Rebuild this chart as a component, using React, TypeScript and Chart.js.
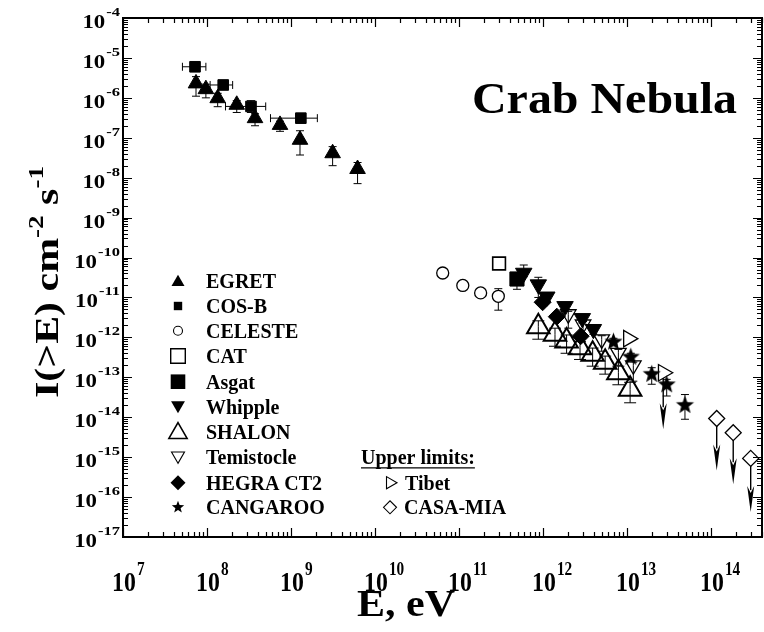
import React, { useEffect, useRef } from "react";
import { Chart, registerables } from "chart.js";
Chart.register(...registerables);

// ---------- axes ----------
const X_MIN = 1e7;
const X_MAX = 4.05e14;
const Y_MIN = 1e-17;
const Y_MAX = 1e-4;
const xTickExps = [7, 8, 9, 10, 11, 12, 13, 14];
const yTickExps = [-4, -5, -6, -7, -8, -9, -10, -11, -12, -13, -14, -15, -16, -17];

const TITLE = "Crab Nebula";
const X_TITLE = "E, eV";

// ---------- data ----------
const egretE = [7.4e7, 9.7e7, 1.34e8, 2.26e8, 3.73e8, 7.4e8, 1.28e9, 3.13e9, 6.2e9];
const egretI = [2.3e-6, 1.65e-6, 9.8e-7, 6.7e-7, 3.1e-7, 2.1e-7, 8.9e-8, 4.1e-8, 1.65e-8];
const egretLo = [1.1e-6, 1.0e-6, 6.0e-7, 4.3e-7, 2.0e-7, 1.45e-7, 3.7e-8, 2.0e-8, 7.1e-9];
const egretHi = [3.4e-6, 2.2e-6, 1.3e-6, 8.5e-7, 4.0e-7, 2.6e-7, 1.5e-7, 6.0e-8, 2.4e-8];

const cosbE = [7.2e7, 1.56e8, 3.34e8, 1.31e9];
const cosbI = [6.0e-6, 2.1e-6, 6.1e-7, 3.1e-7];
const cosbLo = [5.1e-6, 1.75e-6, 4.3e-7, 2.6e-7];
const cosbHi = [7.0e-6, 2.5e-6, 8.5e-7, 3.7e-7];
const cosbELo = [5.1e7, 1.09e8, 1.66e8, 5.7e8];
const cosbEHi = [9.7e7, 2.02e8, 5.0e8, 2.06e9];

const celesteE = [6.4e10, 1.11e11, 1.81e11, 2.94e11];
const celesteI = [4.1e-11, 2.0e-11, 1.3e-11, 1.07e-11];
const celesteLo = [3.6e-11, 1.6e-11, 1.05e-11, 4.8e-12];
const celesteHi = [4.6e-11, 2.4e-11, 1.5e-11, 1.66e-11];

const catE = [3.0e11];
const catI = [7.1e-11];
const catLo = [6.0e-11];
const catHi = [8.2e-11];

const asgatE = [4.9e11];
const asgatI = [2.9e-11];
const asgatLo = [1.6e-11];
const asgatHi = [3.6e-11];

const whippleE = [5.9e11, 8.8e11, 1.11e12, 1.83e12, 2.94e12, 3.98e12];
const whippleI = [4.1e-11, 2.1e-11, 1.04e-11, 6.0e-12, 3.0e-12, 1.6e-12];
const whippleLo = [3.3e-11, 1.0e-11, 8.0e-12, 4.6e-12, 2.3e-12, 1.2e-12];
const whippleHi = [6.5e-11, 3.2e-11, 1.3e-11, 7.5e-12, 3.8e-12, 2.1e-12];

const shalonE = [8.8e11, 1.39e12, 1.91e12, 2.76e12, 3.9e12, 5.5e12, 7.9e12, 1.09e13];
const shalonI = [1.85e-12, 1.19e-12, 8.1e-13, 5.5e-13, 3.8e-13, 2.4e-13, 1.3e-13, 5.0e-14];
const shalonLo = [9.0e-13, 6.0e-13, 4.0e-13, 2.8e-13, 1.9e-13, 1.2e-13, 6.5e-14, 2.3e-14];
const shalonHi = [2.6e-12, 1.7e-12, 1.15e-12, 7.8e-13, 5.4e-13, 3.4e-13, 1.9e-13, 7.5e-14];

const temE = [2.0e12, 3.0e12, 5.0e12, 7.9e12, 1.19e13];
const temI = [3.8e-12, 2.1e-12, 8.9e-13, 4.1e-13, 2.0e-13];
const temLo = [1.7e-12, 1.0e-12, 4.5e-13, 2.0e-13, 8.0e-14];
const temHi = [4.5e-12, 2.5e-12, 1.1e-12, 5.0e-13, 2.4e-13];

const hegraE = [9.9e11, 1.46e12, 2.81e12];
const hegraI = [7.6e-12, 3.3e-12, 1.07e-12];
const hegraLo = [6.4e-12, 2.8e-12, 9.0e-13];
const hegraHi = [9.0e-12, 3.9e-12, 1.27e-12];

const cangE = [6.9e12, 1.11e13, 1.97e13, 2.97e13, 4.9e13];
const cangI = [8.1e-13, 3.4e-13, 1.26e-13, 6.9e-14, 2.1e-14];
const cangLo = [6.5e-13, 2.6e-13, 6.7e-14, 3.4e-14, 8.9e-15];
const cangHi = [9.5e-13, 4.0e-13, 1.74e-13, 8.9e-14, 3.7e-14];

const tibetE = [1.04e13, 2.7e13];
const tibetI = [9.3e-13, 1.3e-13];
const tibetLimitTo = [null, 5.0e-15];

const casaE = [1.17e14, 1.84e14, 2.97e14];
const casaI = [9.3e-15, 4.1e-15, 9.3e-16];
const casaLimitTo = [4.6e-16, 2.1e-16, 4.2e-17];

const legendLeft = ["EGRET", "COS-B", "CELESTE", "CAT", "Asgat", "Whipple", "SHALON", "Temistocle", "HEGRA CT2", "CANGAROO"];
const legendRightTitle = "Upper limits:";
const legendRight = ["Tibet", "CASA-MIA"];

// ---------- helpers ----------
const FONT = "'Liberation Serif', 'Times New Roman', serif";

function pts(xs: number[], ys: number[]) {
  return xs.map((x, i) => ({ x, y: ys[i] }));
}

function starPath(g: CanvasRenderingContext2D, cx: number, cy: number, R: number, r: number) {
  g.beginPath();
  for (let k = 0; k < 10; k++) {
    const a = -Math.PI / 2 + (k * Math.PI) / 5;
    const rr = k % 2 === 0 ? R : r;
    const px = cx + rr * Math.cos(a);
    const py = cy + rr * Math.sin(a);
    if (k === 0) g.moveTo(px, py);
    else g.lineTo(px, py);
  }
  g.closePath();
}

function makeStar(R: number) {
  const c = document.createElement("canvas");
  const s = Math.ceil(2 * R + 2);
  c.width = s;
  c.height = s;
  const g = c.getContext("2d")!;
  g.fillStyle = "#000";
  starPath(g, s / 2, s / 2 + 1, R, R * 0.42);
  g.fill();
  return c;
}

function marker(ctx: CanvasRenderingContext2D, kind: string, x: number, y: number, r: number, filled: boolean, lw = 1.3) {
  ctx.save();
  ctx.fillStyle = "#000";
  ctx.strokeStyle = "#000";
  ctx.lineWidth = lw;
  ctx.beginPath();
  const tri = (rot: number) => {
    let a = (rot * Math.PI) / 180;
    for (let k = 0; k < 3; k++) {
      const px = x + Math.sin(a) * r;
      const py = y - Math.cos(a) * r;
      if (k === 0) ctx.moveTo(px, py);
      else ctx.lineTo(px, py);
      a += (2 * Math.PI) / 3;
    }
    ctx.closePath();
  };
  if (kind === "triUp") tri(0);
  else if (kind === "triDown") tri(180);
  else if (kind === "triRight") tri(90);
  else if (kind === "square") ctx.rect(x - r, y - r, 2 * r, 2 * r);
  else if (kind === "circle") ctx.arc(x, y, r, 0, Math.PI * 2);
  else if (kind === "diamond") {
    ctx.moveTo(x - r, y);
    ctx.lineTo(x, y - r);
    ctx.lineTo(x + r, y);
    ctx.lineTo(x, y + r);
    ctx.closePath();
  } else if (kind === "star") starPath(ctx, x, y, r, r * 0.42);
  if (filled) ctx.fill();
  else {
    ctx.fillStyle = "#fff";
    ctx.fill();
    ctx.stroke();
  }
  ctx.restore();
}

function text(ctx: CanvasRenderingContext2D, s: string, x: number, y: number, font: string, align: CanvasTextAlign = "left", baseline: CanvasTextBaseline = "alphabetic", sx = 1) {
  ctx.save();
  ctx.font = font;
  ctx.textAlign = align;
  ctx.textBaseline = baseline;
  ctx.fillStyle = "#000";
  ctx.translate(x, y);
  ctx.scale(sx, 1);
  ctx.fillText(s, 0, 0);
  ctx.restore();
}

function fitText(ctx: CanvasRenderingContext2D, s: string, x: number, y: number, font: string, width: number, align: CanvasTextAlign = "left") {
  ctx.save();
  ctx.font = font;
  const w = ctx.measureText(s).width;
  ctx.restore();
  text(ctx, s, x, y, font, align, "alphabetic", width / w);
}

function measure(ctx: CanvasRenderingContext2D, s: string, font: string) {
  ctx.save();
  ctx.font = font;
  const w = ctx.measureText(s).width;
  ctx.restore();
  return w;
}

const decorPlugin = {
  id: "decor",
  beforeDatasetsDraw(chart: any) {
    const ctx: CanvasRenderingContext2D = chart.ctx;
    const xs = chart.scales.x;
    const ys = chart.scales.y;
    ctx.save();
    ctx.strokeStyle = "#000";
    ctx.fillStyle = "#000";
    chart.data.datasets.forEach((ds: any) => {
      const cap = ds.capW ?? 4;
      ds.data.forEach((p: any, i: number) => {
        const px = xs.getPixelForValue(p.x);
        const py = ys.getPixelForValue(p.y);
        ctx.lineWidth = 1;
        const vbar = (v: number) => {
          const q = ys.getPixelForValue(v);
          ctx.beginPath();
          ctx.moveTo(px, py);
          ctx.lineTo(px, q);
          ctx.moveTo(px - cap, q);
          ctx.lineTo(px + cap, q);
          ctx.stroke();
        };
        if (ds.errLo && ds.errLo[i] != null) vbar(ds.errLo[i]);
        if (ds.errHi && ds.errHi[i] != null) vbar(ds.errHi[i]);
        if (ds.errXLo && ds.errXLo[i] != null) {
          const a = xs.getPixelForValue(ds.errXLo[i]);
          const b = xs.getPixelForValue(ds.errXHi[i]);
          ctx.beginPath();
          ctx.moveTo(a, py);
          ctx.lineTo(b, py);
          ctx.moveTo(a, py - cap);
          ctx.lineTo(a, py + cap);
          ctx.moveTo(b, py - cap);
          ctx.lineTo(b, py + cap);
          ctx.stroke();
        }
        if (ds.limitTo && ds.limitTo[i] != null) {
          const end = ys.getPixelForValue(ds.limitTo[i]);
          const head = 26;
          ctx.lineWidth = 1.4;
          ctx.beginPath();
          ctx.moveTo(px, py);
          ctx.lineTo(px, end - head + 4);
          ctx.stroke();
          ctx.beginPath();
          ctx.moveTo(px, end - head + 7);
          ctx.lineTo(px - 3.5, end - head);
          ctx.lineTo(px, end);
          ctx.lineTo(px + 3.5, end - head);
          ctx.closePath();
          ctx.fill();
        }
      });
    });
    ctx.restore();
  },
  afterDraw(chart: any) {
    const ctx: CanvasRenderingContext2D = chart.ctx;
    const xs = chart.scales.x;
    const ys = chart.scales.y;
    const { left: L, right: R, top: T, bottom: B } = chart.chartArea;
    ctx.save();
    ctx.strokeStyle = "#000";
    ctx.lineWidth = 1.2;
    ctx.beginPath();
    for (let d = 7; d <= 14; d++) {
      for (let m = 1; m <= 9; m++) {
        const v = m * Math.pow(10, d);
        if (v > X_MAX) break;
        const px = Math.round(xs.getPixelForValue(v)) + 0.5;
        const len = m === 1 ? 9 : 5;
        ctx.moveTo(px, B);
        ctx.lineTo(px, B - len);
        ctx.moveTo(px, T);
        ctx.lineTo(px, T + len);
      }
    }
    for (let d = -17; d <= -5; d++) {
      for (let m = 1; m <= 9; m++) {
        const v = m * Math.pow(10, d);
        const py = Math.round(ys.getPixelForValue(v)) + 0.5;
        const len = m === 1 ? 9 : 5;
        ctx.moveTo(L, py);
        ctx.lineTo(L + len, py);
        ctx.moveTo(R, py);
        ctx.lineTo(R - len, py);
      }
    }
    ctx.stroke();
    ctx.lineWidth = 2;
    ctx.strokeRect(L, T, R - L, B - T);
    ctx.restore();

    // y tick labels
    const ySx = 1.27;
    const yBig = `bold 18px ${FONT}`;
    const ySup = `bold 13px ${FONT}`;
    yTickExps.forEach((e) => {
      const py = ys.getPixelForValue(Math.pow(10, e));
      const w10 = measure(ctx, "10", yBig) * ySx;
      const ws = measure(ctx, String(e), ySup) * ySx;
      const xr = L - 3;
      text(ctx, "10", xr - ws - w10 - 1, py + 10, yBig, "left", "alphabetic", ySx);
      text(ctx, String(e), xr - ws, py - 2, ySup, "left", "alphabetic", ySx);
    });
    // x tick labels
    const xSx = 0.85;
    const xBig = `bold 28px ${FONT}`;
    const xSup = `bold 18px ${FONT}`;
    xTickExps.forEach((e) => {
      const px = xs.getPixelForValue(Math.pow(10, e));
      const w10 = measure(ctx, "10", xBig) * xSx;
      text(ctx, "10", px - w10 / 2 + 1, B + 54, xBig, "left", "alphabetic", xSx);
      text(ctx, String(e), px + w10 / 2 + 2, B + 38, xSup, "left", "alphabetic", xSx);
    });

    // x title
    fitText(ctx, X_TITLE, 406, 616, `bold 38px ${FONT}`, 98, "center");
    // y title (rotated)
    ctx.save();
    ctx.translate(58, 398);
    ctx.rotate(-Math.PI / 2);
    const big = `bold 34px ${FONT}`;
    const sup = `bold 22px ${FONT}`;
    const parts: [string, string, number][] = [
      ["I(>E) cm", big, 0],
      ["-2", sup, -15],
      [" s", big, 0],
      ["-1", sup, -15],
    ];
    let total = 0;
    parts.forEach(([s, f]) => {
      total += measure(ctx, s, f);
    });
    ctx.scale(232 / total, 1);
    let cx = 0;
    parts.forEach(([s, f, dy]) => {
      ctx.font = f;
      ctx.fillStyle = "#000";
      ctx.textBaseline = "alphabetic";
      ctx.fillText(s, cx, dy);
      cx += ctx.measureText(s).width;
    });
    ctx.restore();

    // chart title
    fitText(ctx, TITLE, 472, 113, `bold 44px ${FONT}`, 265);

    // legend
    const rowsY = [280.7, 306, 330.7, 356, 381.7, 406.7, 431.7, 457.3, 482.7, 507.3];
    const kinds: [string, number, boolean, number][] = [
      ["triUp", 7.5, true, 1],
      ["square", 4.2, true, 1],
      ["circle", 4.5, false, 1.1],
      ["square", 7.3, false, 1.4],
      ["square", 7.3, true, 1],
      ["triDown", 8, true, 1],
      ["triUp", 10.5, false, 1.6],
      ["triDown", 7.5, false, 1.1],
      ["diamond", 7.5, true, 1],
      ["star", 6.5, true, 1],
    ];
    const lf = `bold 20px ${FONT}`;
    legendLeft.forEach((name, i) => {
      const [kind, r, f, lw] = kinds[i];
      marker(ctx, kind, 178, rowsY[i] + (kind === "triUp" ? 1.5 : kind === "triDown" ? -1.5 : 0), r, f, lw);
      text(ctx, name, 206, rowsY[i] + 7, lf);
    });
    text(ctx, legendRightTitle, 361, rowsY[7] + 7, lf);
    const uw = measure(ctx, legendRightTitle, lf);
    ctx.save();
    ctx.lineWidth = 1.3;
    ctx.beginPath();
    ctx.moveTo(361, rowsY[7] + 10.5);
    ctx.lineTo(361 + uw, rowsY[7] + 10.5);
    ctx.stroke();
    ctx.restore();
    marker(ctx, "triRight", 390, rowsY[8], 7, false, 1.1);
    text(ctx, legendRight[0], 405, rowsY[8] + 7, lf);
    marker(ctx, "diamond", 390, rowsY[9], 6.5, false, 1.1);
    text(ctx, legendRight[1], 404, rowsY[9] + 7, lf);
  },
};

export default function App() {
  const ref = useRef<HTMLCanvasElement | null>(null);
  useEffect(() => {
    document.body.style.margin = "0";
    const canvas = ref.current!;
    const star = makeStar(9.5);
    const clear = "rgba(0,0,0,0)";
    const datasets: any[] = [
      { label: "EGRET", data: pts(egretE, egretI), errLo: egretLo, errHi: egretHi, pointStyle: "triangle", pointRadius: 9, backgroundColor: "#000", borderColor: "#000", borderWidth: 1 },
      { label: "COS-B", data: pts(cosbE, cosbI), errLo: cosbLo, errHi: cosbHi, errXLo: cosbELo, errXHi: cosbEHi, pointStyle: "rect", pointRadius: 7.5, backgroundColor: "#000", borderColor: "#000", borderWidth: 1 },
      { label: "CELESTE", data: pts(celesteE, celesteI), errLo: celesteLo, errHi: celesteHi, pointStyle: "circle", pointRadius: 6, backgroundColor: "#fff", borderColor: "#000", borderWidth: 1.3 },
      { label: "CAT", data: pts(catE, catI), errLo: catLo, errHi: catHi, pointStyle: "rect", pointRadius: 9, backgroundColor: "#fff", borderColor: "#000", borderWidth: 1.6 },
      { label: "Asgat", data: pts(asgatE, asgatI), errLo: asgatLo, errHi: asgatHi, pointStyle: "rect", pointRadius: 10, backgroundColor: "#000", borderColor: "#000", borderWidth: 1 },
      { label: "Whipple", data: pts(whippleE, whippleI), errLo: whippleLo, errHi: whippleHi, pointStyle: "triangle", pointRotation: 180, pointRadius: 9.5, backgroundColor: "#000", borderColor: "#000", borderWidth: 1 },
      { label: "SHALON", data: pts(shalonE, shalonI), errLo: shalonLo, errHi: shalonHi, capW: 6, pointStyle: "triangle", pointRadius: 13, backgroundColor: clear, borderColor: "#000", borderWidth: 2 },
      { label: "Temistocle", data: pts(temE, temI), errLo: temLo, errHi: temHi, pointStyle: "triangle", pointRotation: 180, pointRadius: 9, backgroundColor: clear, borderColor: "#000", borderWidth: 1.3 },
      { label: "HEGRA CT2", data: pts(hegraE, hegraI), errLo: hegraLo, errHi: hegraHi, pointStyle: "rectRot", pointRadius: 8.5, backgroundColor: "#000", borderColor: "#000", borderWidth: 1 },
      { label: "CANGAROO", data: pts(cangE, cangI), errLo: cangLo, errHi: cangHi, pointStyle: star, pointRadius: 9, backgroundColor: "#000", borderColor: "#000" },
      { label: "Tibet", data: pts(tibetE, tibetI), limitTo: tibetLimitTo, pointStyle: "triangle", pointRotation: 90, pointRadius: 9.5, backgroundColor: "#fff", borderColor: "#000", borderWidth: 1.3 },
      { label: "CASA-MIA", data: pts(casaE, casaI), limitTo: casaLimitTo, pointStyle: "rectRot", pointRadius: 8, backgroundColor: "#fff", borderColor: "#000", borderWidth: 1.3 },
    ];
    datasets.forEach((d) => {
      d.showLine = false;
      d.clip = false;
    });
    const chart = new Chart(canvas, {
      type: "scatter",
      data: { datasets },
      options: {
        responsive: false,
        animation: false,
        devicePixelRatio: 1,
        layout: { autoPadding: false, padding: { left: 123, right: 2, top: 18, bottom: 95 } },
        scales: {
          x: { type: "logarithmic", min: X_MIN, max: X_MAX, display: false },
          y: { type: "logarithmic", min: Y_MIN, max: Y_MAX, display: false },
        },
        plugins: { legend: { display: false }, tooltip: { enabled: false } },
        elements: { point: { hoverRadius: 0 } },
      },
      plugins: [decorPlugin],
    } as any);
    return () => chart.destroy();
  }, []);
  return (
    <div style={{ width: 764, height: 632, background: "#fff" }}>
      <canvas ref={ref} width={764} height={632} style={{ display: "block" }} />
    </div>
  );
}
